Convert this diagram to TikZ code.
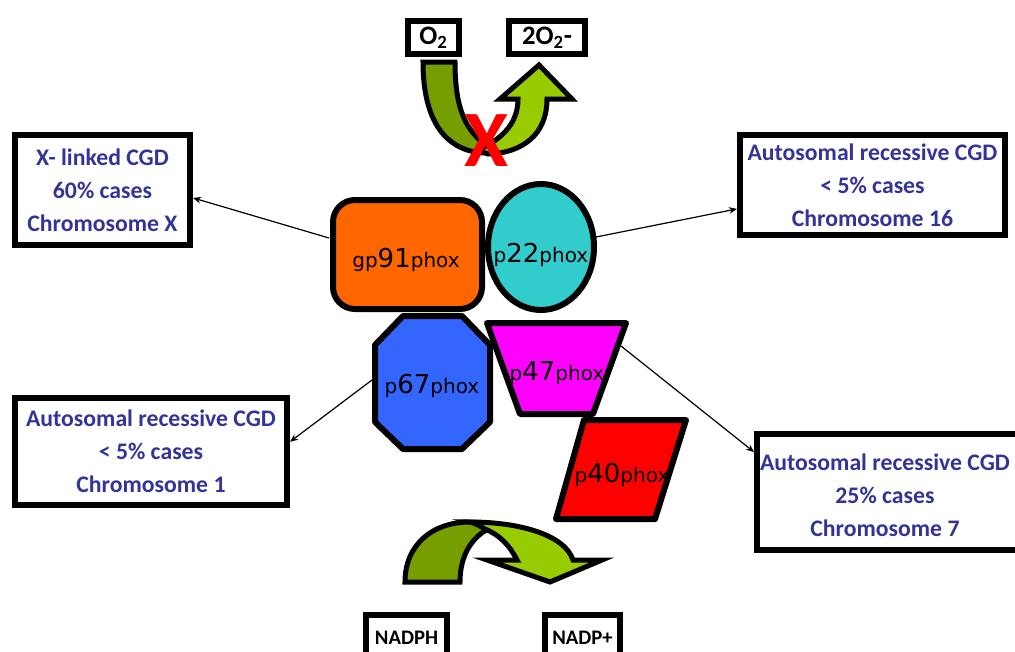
\documentclass[tikz,border=0pt]{standalone}
\usepackage{fontspec}
\setmainfont{Carlito}
\newfontfamily\protfont{DejaVu Sans}
\usetikzlibrary{arrows.meta}
\definecolor{boxblue}{HTML}{333399}
\definecolor{gporange}{HTML}{FF6600}
\definecolor{pcyan}{HTML}{33CCCC}
\definecolor{pblue}{HTML}{3366FF}
\definecolor{pmag}{HTML}{FF00FF}
\definecolor{pred}{HTML}{FF0000}
\definecolor{dkgreen}{HTML}{779E00}
\definecolor{ltgreen}{HTML}{99CC00}
\newcommand\protlabel[3]{{\protfont\fontsize{15}{18}\selectfont #1{\fontsize{19.5}{22}\selectfont #2}#3}}
\begin{document}
\begin{tikzpicture}[x=0.75pt,y=-0.75pt,
  protshape/.style={draw=black, line width=4.5pt, line join=round},
  protlbl/.style={inner sep=0pt},
  infotext/.style={align=center, text=boxblue,
    font=\fontsize{17.8}{24.75}\selectfont\bfseries, inner sep=0pt},
  infobox/.style={draw, line width=4.5pt, infotext},
  chembox/.style={draw, line width=4.5pt, inner sep=0pt, fill=white},
  greenarrow/.style={draw=black, line width=3.75pt},
  conn/.style={line width=0.9pt, -{Stealth[length=6pt,width=5pt]}}]
\useasboundingbox (0,0) rectangle (1015,651);
\clip (0,0) rectangle (1015,651);

% top U arrow (O2 -> 2O2-)
\draw[greenarrow, fill=dkgreen] (423,62) -- (455,62) .. controls (455,110) and (466,132) .. (490,148)
  -- (486,153) .. controls (445,152) and (423,120) .. (423,62) -- cycle;
\draw[greenarrow, fill=ltgreen] (478,150) .. controls (500,140) and (518,125) .. (518,99)
  -- (500,99) -- (539,65) -- (572,99) -- (547,99) .. controls (547,135) and (522,153) .. (488,154) -- cycle;
\node[chembox, minimum width=38.25pt, minimum height=24.75pt, font=\fontsize{20}{20}\selectfont\bfseries]
  (o2) at (433.5,37.5) {O\textsubscript{2}};
\node[chembox, minimum width=57pt, minimum height=24.75pt, font=\fontsize{20}{20}\selectfont\bfseries]
  (o2m) at (547,37.5) {2O\textsubscript{2}-};
\node[inner sep=0pt, text=red, font=\fontsize{60}{60}\selectfont\bfseries] (nox) at (487,141) {X};

% proteins
\draw[protshape, fill=pblue] (403,316) -- (462,316) -- (490,345) -- (490,422) -- (462,449)
  -- (403,449) -- (375,422) -- (375,345) -- cycle;
\draw[protshape, fill=pmag] (487,323) -- (626,323) -- (593,414) -- (520,414) -- cycle;
\draw[protshape, fill=pred] (584,420) -- (686,420) -- (655,519) -- (556,519) -- cycle;
\draw[protshape, fill=gporange, rounded corners=16.5pt] (333,200) rectangle (482,309);
\draw[protshape, fill=pcyan] (541,247) ellipse [x radius=39.75pt, y radius=47.25pt];

\node[protlbl] (gp91) at (406,260) {\protlabel{gp}{91}{phox}};
\node[protlbl] (p22) at (541,255) {\protlabel{p}{22}{phox}};
\node[protlbl] (p67) at (432,386) {\protlabel{p}{67}{phox}};
\node[protlbl] (p47) at (557,373) {\protlabel{p}{47}{phox}};
\node[protlbl] (p40) at (622,475) {\protlabel{p}{40}{phox}};

% bottom arrow (NADPH -> NADP+)
\draw[greenarrow, fill=dkgreen] (405,582) .. controls (405,545) and (432,522) .. (470,522)
  .. controls (478,522) and (486,524) .. (492,527)
  .. controls (472,536) and (460,555) .. (460,582) -- cycle;
\draw[greenarrow, fill=ltgreen] (470,522) .. controls (520,522) and (565,535) .. (573,560)
  -- (602,560) -- (550,582) -- (487,560) -- (517,560)
  .. controls (510,546) and (500,535) .. (485,529) .. controls (480,526) and (475,523) .. (470,522) -- cycle;
\node[chembox, minimum width=60.75pt, minimum height=33.75pt, font=\fontsize{15.5}{16}\selectfont\bfseries,
  text depth=0pt] (nadph) at (406.5,637.5) {NADPH};
\node[chembox, minimum width=56.25pt, minimum height=33.75pt, font=\fontsize{15.5}{16}\selectfont\bfseries,
  text depth=0pt] (nadp) at (582.5,637.5) {NADP+};

% info boxes
\node[infobox, minimum width=131.25pt, minimum height=82.5pt] (xbox) at (102.5,190)
  {X- linked CGD\\60\% cases\\Chromosome X};
\node[infobox, minimum width=198.75pt, minimum height=75pt] (rtbox) at (872.5,185)
  {Autosomal recessive CGD\\< 5\% cases\\Chromosome 16};
\node[infobox, minimum width=204pt, minimum height=80.25pt] (lbbox) at (151,451.5)
  {Autosomal recessive CGD\\< 5\% cases\\Chromosome 1};
\node[draw, line width=4.5pt, minimum width=204.75pt, minimum height=87pt] (rbbox) at (893.5,492) {};
\node[infotext] (rbtext) at (885,495)
  {Autosomal recessive CGD\\25\% cases\\Chromosome 7};

% connectors
\coordinate (s1) at (329,238);
\coordinate (s2) at (596,237);
\coordinate (s3) at (372,380);
\coordinate (s4) at (621,346);
\draw[conn] (s1) -- (xbox.-5);
\draw[conn] (s2) -- (rtbox.190);
\draw[conn] (s3) -- (lbbox.4);
\draw[conn] (s4) -- (rbbox.164);
\end{tikzpicture}
\end{document}
